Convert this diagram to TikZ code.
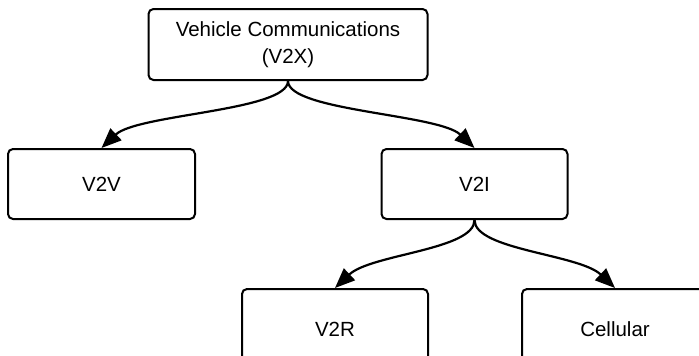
\documentclass[tikz,border=0pt]{standalone}
\usepackage{fontspec}
\setmainfont{Liberation Sans}
\usetikzlibrary{arrows.meta}

\begin{document}
\begin{tikzpicture}[x=1pt, y=-1pt,
    every node/.style={draw, line width=2pt, rounded corners=5pt, align=center,
        font=\fontsize{20.5}{27}\selectfont, inner sep=0pt},
    link/.style={line width=2.2pt, -{Triangle[length=20pt, width=16pt]}}]
                \useasboundingbox (0,0) rectangle (699,356);

                \node (v2x) at (288,44.5) [minimum width=279pt, minimum height=71pt] {Vehicle Communications\\(V2X)};
                \node (v2v) at (101.5,184) [minimum width=187pt, minimum height=70pt] {V2V};
                \node (v2i) at (474.5,184) [minimum width=186pt, minimum height=70pt] {V2I};
                \node (v2r) at (335,329) [minimum width=186pt, minimum height=80pt] {V2R};
                \node (cell) at (615,329) [minimum width=186pt, minimum height=80pt] {Cellular};

                \draw[link] (v2x.south) .. controls +(0,30) and +(36,-34) .. (v2v.north);
                \draw[link] (v2x.south) .. controls +(0,30) and +(-36,-34) .. (v2i.north);
                \draw[link] (v2i.south) .. controls +(0,30) and +(36,-34) .. (v2r.north);
                \draw[link] (v2i.south) .. controls +(0,30) and +(-36,-34) .. (cell.north);
            \end{tikzpicture}
\end{document}
